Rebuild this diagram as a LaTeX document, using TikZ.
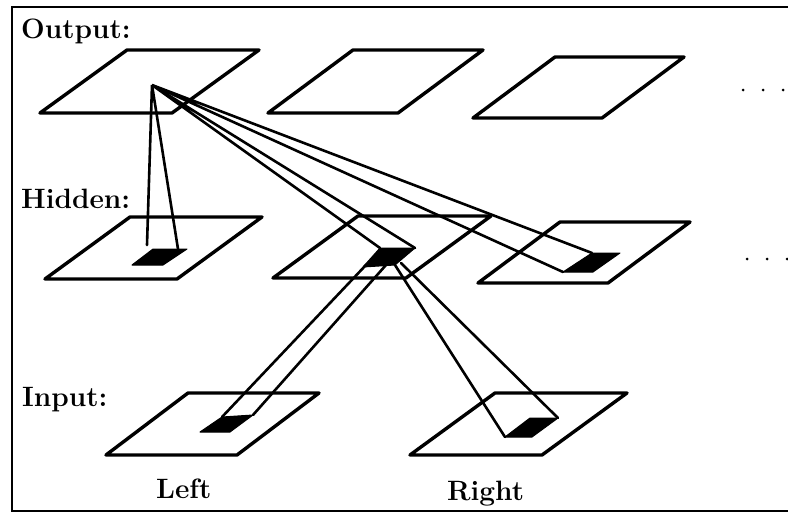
\documentclass[tikz,border=0pt]{standalone}
\usetikzlibrary{positioning}
\tikzset{%
	layerbox/.style = {line width=3.4pt, line join=round},
	rfield/.style   = {fill=black, draw=black, line width=1pt, line join=round},
	fan/.style      = {line width=2.6pt, line cap=round},
	lbl/.style      = {font=\fontsize{28}{32}\selectfont\bfseries, inner sep=0pt, anchor=base west},
}

\begin{document}
\begin{tikzpicture}[x=1pt,y=-1pt]
		\useasboundingbox (0,0) rectangle (788,514);
		\draw[line width=2.4pt] (800,7) -- (12,7) -- (12,511) -- (800,511);
		
		% feature maps: lower left corner, width, shift, height
		\foreach \bx/\by/\bw/\bo/\bh in {40/113/132/87/63, 268/113/130/85/63, 473/118/129/82/61,
			45/279/132/85/62, 273/278/133/85/62, 478/283/130/82/61,
			106/455/131/82/62, 410/455/132/85/62}
			\draw[layerbox] (\bx,\by) -- ++(\bw,0) -- ++(\bo,-\bh) -- ++(-\bw,0) -- cycle;
		
		% receptive fields
		\foreach \nm/\ax/\ay/\bx/\by/\cx/\cy/\dx/\dy in {hA/132/265/163/265/187/249/153/249,
			hB/363/267/395/265/415/248/380/248, hC/563/272/593/272/620/253/592/253,
			iL/200/432/230/432/253/415/222/417, iR/505/437/532/437/558/418/530/418}
			{
			\coordinate (\nm-bl) at (\ax,\ay);
			\coordinate (\nm-br) at (\bx,\by);
			\coordinate (\nm-tr) at (\cx,\cy);
			\coordinate (\nm-tl) at (\dx,\dy);
			\filldraw[rfield] (\nm-bl) -- (\nm-br) -- (\nm-tr) -- (\nm-tl) -- cycle;
			}
		
		\coordinate (unit) at (152,85);
		\coordinate (hA-l) at (147,245);
		\coordinate (hA-r) at (178,249);
		\coordinate (hB-a) at (366,265);
		\coordinate (hB-b) at (386,265);
		\coordinate (hB-c) at (395,265);
		\coordinate (hB-d) at (401,263);
		
		% output unit to hidden maps
		\draw[fan] (hA-l) -- (unit) -- (hA-r);
		\draw[fan] (hB-tl) -- (unit) -- (hB-tr);
		\draw[fan] (hC-bl) -- (unit) -- (hC-tl);
		
		% hidden unit to input maps
		\draw[fan] (hB-a) -- (iL-tl);
		\draw[fan] (hB-b) -- (iL-tr);
		\draw[fan] (hB-c) -- (iR-bl);
		\draw[fan] (hB-d) -- (iR-tr);
		
		\foreach \x in {743,763,783} \fill (\x,90) circle (1.5pt);
		\foreach \x in {747,767,787} \fill (\x,259) circle (1.5pt);
		
		\node[lbl] (lbOut) at (21,38) {Output:};
		\node[lbl] (lbHid) at (21,208) {Hidden:};
		\node[lbl] (lbIn) at (22,406) {Input:};
		\node[lbl] (lbLeft) at (156,498) {Left};
		\node[lbl] (lbRight) at (447,500) {Right};
	\end{tikzpicture}
\end{document}
